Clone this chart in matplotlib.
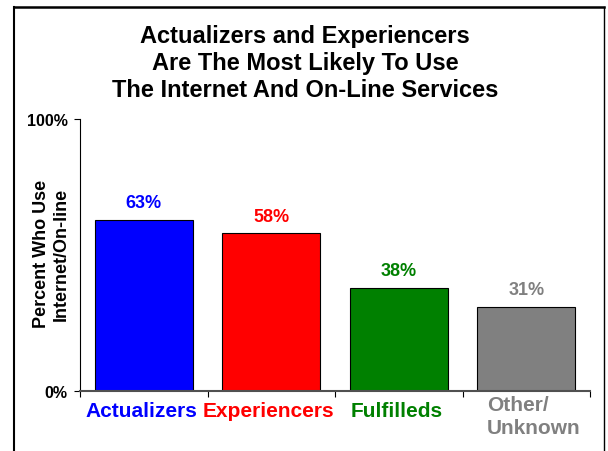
import matplotlib
matplotlib.use("Agg")
import matplotlib.pyplot as plt
from matplotlib.lines import Line2D
from matplotlib.transforms import blended_transform_factory

plt.rcParams['font.family'] = ['Liberation Sans', 'DejaVu Sans']
plt.rcParams['font.weight'] = 'bold'

# data
categories = ['Actualizers', 'Experiencers', 'Fulfilleds', 'Other/\nUnknown']
values = [63, 58, 38, 31]
colors = ['#0000FF', '#FF0000', '#008000', '#808080']
title = ('Actualizers and Experiencers\n'
         'Are The Most Likely To Use\n'
         'The Internet And On-Line Services')
ylabel = 'Percent Who Use\nInternet/On-line'

W, H = 608, 452
fig = plt.figure(figsize=(W / 100, H / 100), dpi=100)
ax = fig.add_axes([80 / W, 1 - 392 / H, 510 / W, 272 / H])

x = range(len(categories))
ax.bar(x, values, width=0.77, color=colors, edgecolor='black', linewidth=0.8)

# value labels above bars
for i, v in enumerate(values):
    ax.annotate(f'{v}%', (i, v), xytext=(0, 9), textcoords='offset points',
                ha='center', va='baseline', fontsize=13, fontweight='bold',
                color=colors[i])

ax.set_xlim(-0.5, len(categories) - 0.5)
ax.set_ylim(0, 100)
ax.set_yticks([0, 100])
ax.set_yticklabels(['0%', '100%'], fontsize=11.5, fontweight='bold')
ax.tick_params(axis='y', direction='out', length=4, width=0.8, pad=5)

# ticks on category boundaries
ax.set_xticks([i - 0.5 for i in range(len(categories) + 1)])
ax.set_xticklabels([])
ax.tick_params(axis='x', direction='out', length=4, width=0.8, colors='black')

ax.spines['top'].set_visible(False)
ax.spines['right'].set_visible(False)
ax.spines['left'].set_linewidth(0.8)
ax.spines['bottom'].set_color('#505050')
ax.spines['bottom'].set_linewidth(1.5)

# category labels, coloured like the bars
trans = blended_transform_factory(ax.transData, fig.transFigure)
for i, (c, col) in enumerate(zip(categories, colors)):
    if '\n' in c:
        ax.text(i + 0.06, 1 - 396 / H, c, transform=trans, ha='center', va='top',
                multialignment='left', fontsize=15, fontweight='bold',
                color=col, linespacing=1.3)
    else:
        ax.text(i - 0.02, 1 - 402 / H, c, transform=trans, ha='center', va='top',
                fontsize=15, fontweight='bold', color=col)

fig.text(51 / W, 1 - 254 / H, ylabel, rotation=90, ha='center', va='center',
         fontsize=13, fontweight='bold', linespacing=1.2)

fig.text(305 / W, 1 - 25 / H, title, ha='center', va='top', fontsize=17,
         fontweight='bold', linespacing=1.22)

# slide frame
fig.add_artist(Line2D([13.5 / W, 13.5 / W], [0, 1 - 8 / H], transform=fig.transFigure,
                      color='black', linewidth=1.5))
fig.add_artist(Line2D([13.5 / W, 604 / W], [1 - 8 / H, 1 - 8 / H], transform=fig.transFigure,
                      color='black', linewidth=1.8))
fig.add_artist(Line2D([604 / W, 604 / W], [0, 1 - 8 / H], transform=fig.transFigure,
                      color='black', linewidth=1.0))

fig.savefig('out.png', dpi=100)
